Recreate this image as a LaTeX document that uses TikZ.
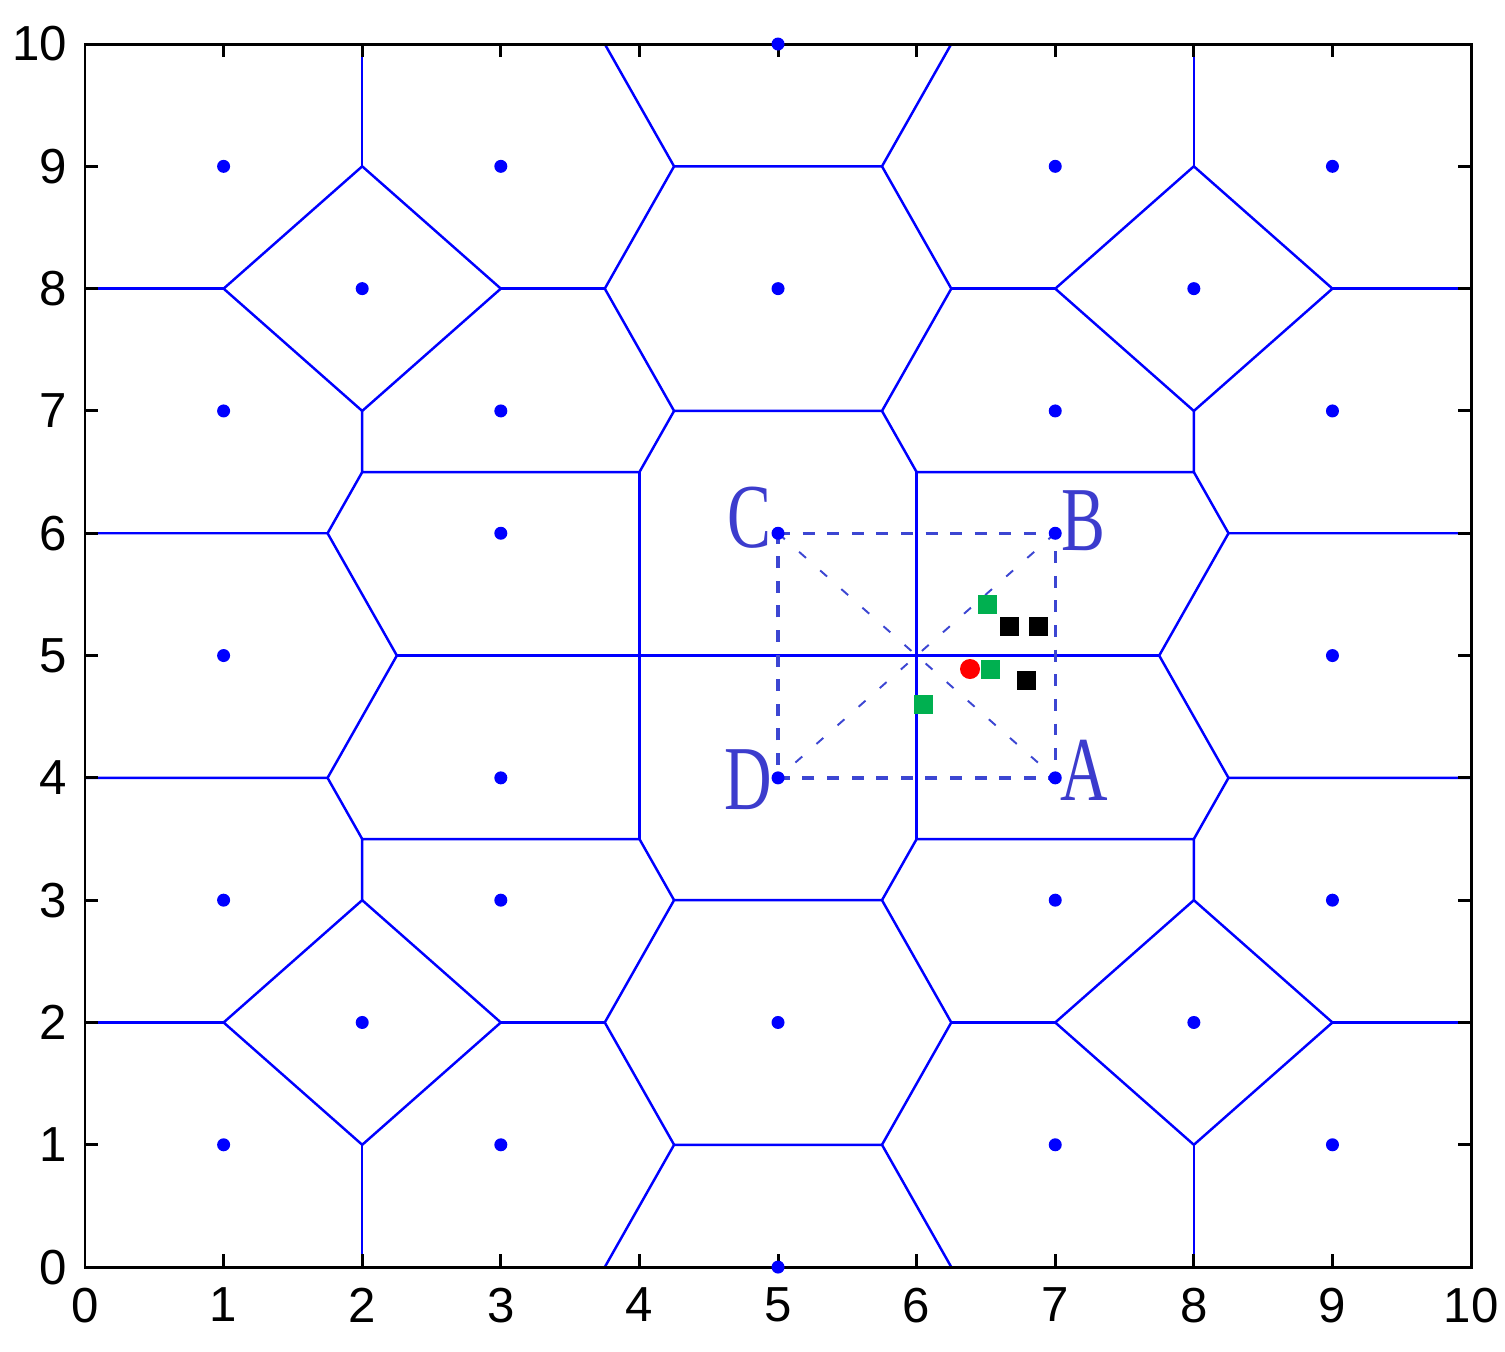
\documentclass[tikz,border=0pt]{standalone}
\usepackage{fontspec}
\setmainfont{Liberation Serif}
\newfontfamily\axisfont{Liberation Sans}
\definecolor{cellblue}{RGB}{0,0,255}
\definecolor{boxblue}{RGB}{60,70,210}
\definecolor{lblblue}{RGB}{60,60,205}
\definecolor{ptgreen}{RGB}{0,176,80}
\tikzset{
    cell/.style={cellblue, line width=0.7pt},
    sqline/.style={boxblue, line width=0.95pt, dash pattern=on 3.4pt off 3.6pt},
    diagline/.style={boxblue, line width=0.55pt, dash pattern=on 2.6pt off 5.4pt},
    lbl/.style={lblblue, inner sep=0pt, font=\fontsize{26}{26}\selectfont},
    ticklbl/.style={inner sep=0pt, font=\axisfont\fontsize{14}{14}\selectfont},
    ptsq/.style={rectangle, minimum size=0.19cm, inner sep=0pt}
}
\begin{document}
\begin{tikzpicture}[x=1.386cm, y=1.223cm]
    \useasboundingbox (-0.6133,-0.687) rectangle (10.245,10.36);
    \coordinate (a) at (7,4);
    \coordinate (b) at (7,6);
    \coordinate (c) at (5,6);
    \coordinate (d) at (5,4);
    \coordinate (o) at (6,5);

    % upper half, then mirrored about y=5
    \foreach \ys/\yo in {1/0, -1/10} {
    \begin{scope}[shift={(0,\yo)}, yscale=\ys]
        \draw[cell] (2,10)--(2,9); \draw[cell] (8,10)--(8,9);
        \draw[cell] (1,8)--(2,9)--(3,8)--(2,7)--cycle;
        \draw[cell] (7,8)--(8,9)--(9,8)--(8,7)--cycle;
        \draw[cell] (0,8)--(1,8); \draw[cell] (3,8)--(3.75,8);
        \draw[cell] (6.25,8)--(7,8); \draw[cell] (9,8)--(10,8);
        \draw[cell] (3.75,10)--(4.25,9)--(5.75,9)--(6.25,10);
        \draw[cell] (4.25,9)--(3.75,8)--(4.25,7)--(5.75,7)--(6.25,8)--(5.75,9);
        \draw[cell] (2,7)--(2,6.5)--(4,6.5)--(4.25,7);
        \draw[cell] (8,7)--(8,6.5)--(6,6.5)--(5.75,7);
        \draw[cell] (4,6.5)--(4,5); \draw[cell] (6,6.5)--(6,5);
        \draw[cell] (0,6)--(1.75,6)--(2,6.5); \draw[cell] (1.75,6)--(2.25,5);
        \draw[cell] (10,6)--(8.25,6)--(8,6.5); \draw[cell] (8.25,6)--(7.75,5);
    \end{scope}
    }
    \draw[cell] (2.25,5)--(7.75,5);

    \draw[sqline] (c)--(b)--(a)--(d)--cycle;
    \draw[diagline] (c)--(a); \draw[diagline] (b)--(d);

    % axes
    \draw[line width=0.85pt] (0,0) rectangle (10,10);
    \foreach \t in {1,...,9} {
        \draw[line width=0.85pt] (\t,0) -- ++(0,0.13cm);
        \draw[line width=0.85pt] (\t,10) -- ++(0,-0.13cm);
        \draw[line width=0.85pt] (0,\t) -- ++(0.13cm,0);
        \draw[line width=0.85pt] (10,\t) -- ++(-0.13cm,0);
    }
    \foreach \t in {0,...,10} {
        \node[ticklbl, anchor=north] (x\t) at ([yshift=-0.2cm]\t,0) {\t};
        \node[ticklbl, anchor=east] (y\t) at ([xshift=-0.17cm]0,\t) {\t};
    }

    % sites
    \foreach \x/\y in {1/9, 3/9, 7/9, 9/9, 2/8, 5/8, 8/8, 1/7, 3/7, 7/7, 9/7, 3/6, 5/6, 7/6, 1/5, 9/5, 5/10,
                       1/1, 3/1, 7/1, 9/1, 2/2, 5/2, 8/2, 1/3, 3/3, 7/3, 9/3, 3/4, 5/4, 7/4, 5/0}
        \fill[cellblue] (\x,\y) circle (0.065cm);

    \node[ptsq, fill=ptgreen] (g1) at (6.51,5.415) {};
    \node[ptsq, fill=ptgreen] (g2) at (6.535,4.89) {};
    \node[ptsq, fill=ptgreen] (g3) at (6.05,4.60) {};
    \node[ptsq, fill=black] (k1) at (6.67,5.24) {};
    \node[ptsq, fill=black] (k2) at (6.88,5.24) {};
    \node[ptsq, fill=black] (k3) at (6.79,4.80) {};
    \node[circle, fill=red, minimum size=0.2cm, inner sep=0pt] (r1) at (6.385,4.89) {};

    \node[lbl] (lc) at ([shift={(-0.29cm,0.16cm)}]c) {\scalebox{0.72}[1]{C}};
    \node[lbl] (lb) at ([shift={(0.28cm,0.13cm)}]b) {\scalebox{0.72}[1]{B}};
    \node[lbl] (ld) at ([shift={(-0.30cm,-0.02cm)}]d) {\scalebox{0.72}[1]{D}};
    \node[lbl] (la) at ([shift={(0.29cm,0.08cm)}]a) {\scalebox{0.72}[1]{A}};
\end{tikzpicture}
\end{document}
